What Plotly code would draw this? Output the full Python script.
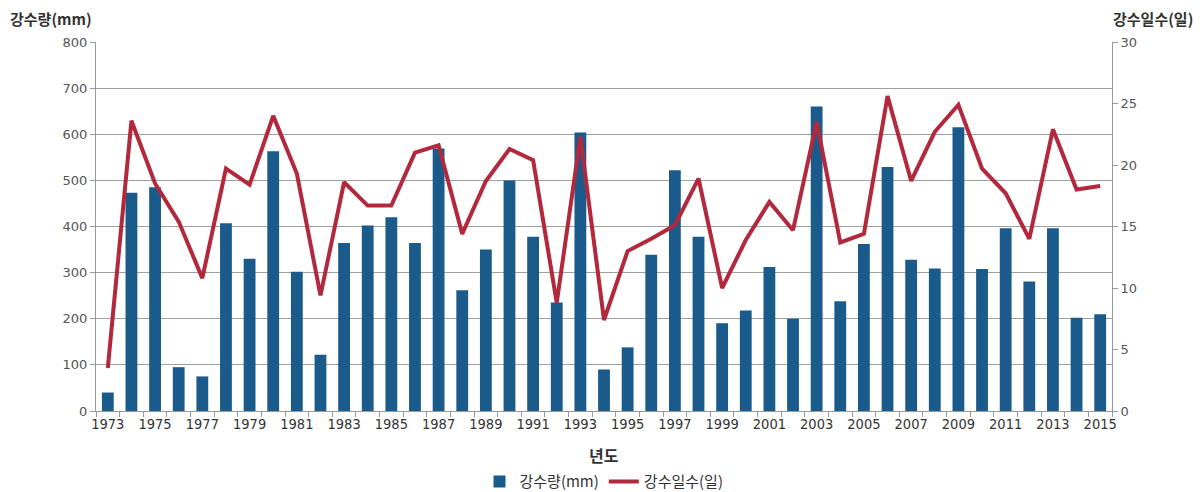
import plotly.graph_objects as go

years = list(range(1973, 2016))
rain_mm = [40, 473, 485, 95, 75, 407, 330, 563, 302, 122, 364, 402, 420, 364,
           569, 262, 350, 500, 378, 235, 604, 90, 138, 339, 522, 378, 190, 218,
           312, 200, 660, 238, 362, 529, 328, 309, 615, 308, 396, 281, 396, 202, 210]
rain_days = [3.5, 23.6, 18.5, 15.4, 10.8, 19.7, 18.4, 24.0, 19.3, 9.4, 18.6, 16.7,
             16.7, 21.0, 21.6, 14.4, 18.7, 21.3, 20.4, 8.8, 22.3, 7.4, 13.0, 14.0,
             15.1, 18.9, 10.0, 13.9, 17.0, 14.7, 23.5, 13.7, 14.4, 25.6, 18.7, 22.7,
             24.9, 19.7, 17.7, 14.0, 22.9, 18.0, 18.3]
tick_years = [y for y in years if (y - 1973) % 2 == 0]

fig = go.Figure()
fig.add_trace(go.Bar(x=years, y=rain_mm, name="강수량(mm)",
                     marker=dict(color="#1B5B8C", line=dict(width=0)), width=0.5))
fig.add_trace(go.Scatter(x=years, y=rain_days, name="강수일수(일)", yaxis="y2",
                         mode="lines", line=dict(color="#B2283C", width=4)))

tickfont = dict(family="DejaVu Sans", size=13, color="#555555")
fig.update_layout(
    width=1202, height=492,
    margin=dict(l=96, r=90, t=42, b=81, autoexpand=False),
    plot_bgcolor="white", paper_bgcolor="white",
    showlegend=True,
    legend=dict(orientation="h", x=0.5, xanchor="center", y=-0.192, yanchor="middle",
                font=dict(family="Noto Sans CJK KR", size=15, color="#333333"),
                itemwidth=30, tracegroupgap=0),
    xaxis=dict(range=[1972.5, 2015.5], tickmode="array", tickvals=tick_years,
               ticktext=[str(y) for y in tick_years], showgrid=False,
               tickfont=dict(family="DejaVu Sans Condensed, Noto Sans", size=14.5,
                             color="#333333"),
               ticks="", showline=True, linecolor="#999999", linewidth=1,
               minor=dict(tick0=1972.5, dtick=1, ticks="outside", ticklen=5,
                          tickcolor="#999999", showgrid=False),
               zeroline=False),
    yaxis=dict(range=[0, 800], dtick=100, showgrid=True, gridcolor="#A0A0A0",
               gridwidth=1, tickfont=tickfont, showline=True, linecolor="#999999",
               ticks="outside", ticklen=5, tickcolor="#999999", zeroline=False),
    yaxis2=dict(range=[0, 30], dtick=5, overlaying="y", side="right", showgrid=False,
                tickfont=tickfont, showline=True, linecolor="#999999",
                ticks="outside", ticklen=5, tickcolor="#999999", zeroline=False),
    annotations=[
        dict(text="<b>강수량(mm)</b>", xref="paper", yref="paper", x=-0.087, y=1.065,
             xanchor="left", yanchor="middle", showarrow=False,
             font=dict(family="Noto Sans CJK KR", size=15, color="#333333")),
        dict(text="<b>강수일수(일)</b>", xref="paper", yref="paper", x=1.082, y=1.065,
             xanchor="right", yanchor="middle", showarrow=False,
             font=dict(family="Noto Sans CJK KR", size=15, color="#333333")),
        dict(text="<b>년도</b>", xref="paper", yref="paper", x=0.5, y=-0.12,
             xanchor="center", yanchor="middle", showarrow=False,
             font=dict(family="Noto Sans CJK KR", size=16, color="#333333")),
    ],
)
fig.write_html("out.html", config={"displayModeBar": False},
               post_script="document.body.style.margin='0';document.body.style.overflow='hidden';")
